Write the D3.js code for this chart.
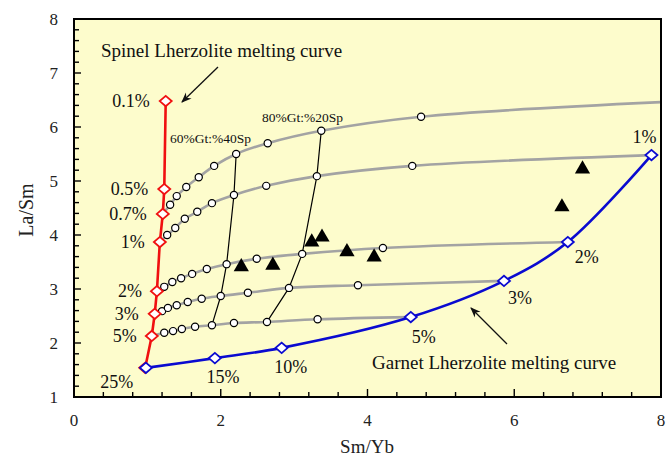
<!DOCTYPE html>
<html>
<head>
<meta charset="utf-8">
<script src="https://cdn.jsdelivr.net/npm/d3@7"></script>
<style>
  body { margin: 0; background: #fff; }
  svg { display: block; font-family: "Liberation Serif", "Times New Roman", serif; }
</style>
</head>
<body>
<svg id="chart" width="666" height="457"></svg>
<script>
// spinel lherzolite melting curve (red)
var spinelLabels = ["0.1%", "0.5%", "0.7%", "1%", "2%", "3%", "5%", "25%"];
var spinelX = [1.25, 1.23, 1.21, 1.17, 1.13, 1.10, 1.06, 0.97];
var spinelY = [6.48, 4.85, 4.39, 3.87, 2.96, 2.54, 2.13, 1.54];

// garnet lherzolite melting curve (blue)
var garnetLabels = ["25%", "15%", "10%", "5%", "3%", "2%", "1%"];
var garnetX = [0.98, 1.92, 2.83, 4.59, 5.86, 6.73, 7.87];
var garnetY = [1.54, 1.72, 1.91, 2.48, 3.15, 3.87, 5.48];

// mixing curves, from a spinel melt to a garnet melt
var mixAx = [1.31, 1.40, 1.53, 1.70, 1.91, 2.21, 2.64, 3.37, 4.73];
var mixAy = [4.56, 4.72, 4.89, 5.07, 5.28, 5.50, 5.70, 5.93, 6.19];
var mixBx = [1.27, 1.38, 1.51, 1.68, 1.88, 2.18, 2.62, 3.31, 4.61];
var mixBy = [4.00, 4.13, 4.30, 4.43, 4.59, 4.74, 4.91, 5.09, 5.28];
var mixCx = [1.23, 1.34, 1.46, 1.61, 1.81, 2.08, 2.49, 3.11, 4.21];
var mixCy = [3.04, 3.13, 3.20, 3.28, 3.37, 3.46, 3.56, 3.65, 3.76];
var mixDx = [1.20, 1.28, 1.40, 1.55, 1.74, 2.00, 2.37, 2.93, 3.87];
var mixDy = [2.59, 2.65, 2.70, 2.76, 2.82, 2.87, 2.93, 3.02, 3.07];
var mixEx = [1.23, 1.35, 1.47, 1.65, 1.88, 2.18, 2.63, 3.32];
var mixEy = [2.19, 2.22, 2.26, 2.30, 2.33, 2.37, 2.39, 2.44];

// start (spinel index) and end of every mixing curve
var mixStart = [2, 3, 4, 5, 6];
var mixEnd = [[8.0, 6.46], [7.87, 5.48], [6.73, 3.87], [5.86, 3.15], [4.59, 2.48]];

// circle index crossed by the 60%Gt:40%Sp and 80%Gt:20%Sp lines, per curve
var tie60 = [5, 5, 5, 5, 4];
var tie80 = [7, 7, 7, 7, 6];

// samples
var sampleX = [2.28, 2.71, 3.24, 3.38, 3.72, 4.09, 6.65, 6.93];
var sampleY = [3.41, 3.44, 3.87, 3.96, 3.69, 3.59, 4.52, 5.22];

var xTickLabels = [0, 2, 4, 6, 8];
var yTickLabels = [1, 2, 3, 4, 5, 6, 7, 8];

var svg = d3.select("#chart");
var x = d3.scaleLinear().domain([0, 8]).range([74, 661]);
var y = d3.scaleLinear().domain([1, 8]).range([397, 19]);

svg.append("defs").append("clipPath").attr("id", "plot-clip")
    .append("rect")
    .attr("x", x(0)).attr("y", y(8))
    .attr("width", x(8) - x(0)).attr("height", y(1) - y(8));

svg.select("defs").append("marker")
    .attr("id", "arrow")
    .attr("viewBox", "0 0 10 10")
    .attr("refX", 9).attr("refY", 5)
    .attr("markerWidth", 8).attr("markerHeight", 8)
    .attr("orient", "auto")
    .append("path")
    .attr("d", "M0,1 L10,5 L0,9 L3,5 Z")
    .attr("fill", "#111");

svg.append("rect")
    .attr("x", x(0)).attr("y", y(8))
    .attr("width", x(8) - x(0)).attr("height", y(1) - y(8))
    .attr("fill", "#fdfccc");

var plot = svg.append("g").attr("clip-path", "url(#plot-clip)");

var mixes = [
    {xs: mixAx, ys: mixAy}, {xs: mixBx, ys: mixBy}, {xs: mixCx, ys: mixCy},
    {xs: mixDx, ys: mixDy}, {xs: mixEx, ys: mixEy}
].map(function (m, i) {
    var pts = m.xs.map(function (v, j) { return [v, m.ys[j]]; });
    var s = mixStart[i];
    return {
        circles: pts,
        path: [[spinelX[s], spinelY[s]]].concat(pts, [mixEnd[i]])
    };
});

var smooth = d3.line()
    .x(function (d) { return x(d[0]); })
    .y(function (d) { return y(d[1]); })
    .curve(d3.curveCatmullRom.alpha(0.5));
var straight = d3.line()
    .x(function (d) { return x(d[0]); })
    .y(function (d) { return y(d[1]); });

plot.append("g").attr("class", "mix-lines")
    .selectAll("path")
    .data(mixes)
    .enter().append("path")
    .attr("d", function (d) { return smooth(d.path); })
    .attr("fill", "none")
    .attr("stroke", "#a3a3a3")
    .attr("stroke-width", 2.6);

[tie60, tie80].forEach(function (tie) {
    var pts = tie.map(function (k, i) { return mixes[i].circles[k]; });
    plot.append("path")
        .attr("d", straight(pts))
        .attr("fill", "none")
        .attr("stroke", "#000")
        .attr("stroke-width", 1.2);
});

var spinel = spinelX.map(function (v, i) { return [v, spinelY[i]]; });
var garnet = garnetX.map(function (v, i) { return [v, garnetY[i]]; });

plot.append("path")
    .attr("d", straight(spinel))
    .attr("fill", "none")
    .attr("stroke", "#f01010")
    .attr("stroke-width", 2.6);

plot.append("path")
    .attr("d", smooth(garnet))
    .attr("fill", "none")
    .attr("stroke", "#0a0ad0")
    .attr("stroke-width", 2.6);

plot.append("g").selectAll("circle")
    .data(d3.merge(mixes.map(function (m) { return m.circles; })))
    .enter().append("circle")
    .attr("cx", function (d) { return x(d[0]); })
    .attr("cy", function (d) { return y(d[1]); })
    .attr("r", 3.6)
    .attr("fill", "#fff")
    .attr("stroke", "#000")
    .attr("stroke-width", 1.2);

// open diamond, a bit wider than tall
var diamond = "M0,-5.2 L6,0 L0,5.2 L-6,0 Z";

plot.append("g").selectAll("path")
    .data(spinel)
    .enter().append("path")
    .attr("d", diamond)
    .attr("transform", function (d) { return "translate(" + x(d[0]) + "," + y(d[1]) + ")"; })
    .attr("fill", "#fff")
    .attr("stroke", "#f01010")
    .attr("stroke-width", 1.8);

plot.append("g").selectAll("path")
    .data(garnet)
    .enter().append("path")
    .attr("d", diamond)
    .attr("transform", function (d) { return "translate(" + x(d[0]) + "," + y(d[1]) + ")"; })
    .attr("fill", "#fff")
    .attr("stroke", "#0a0ad0")
    .attr("stroke-width", 1.8);

plot.append("g").selectAll("path")
    .data(sampleX)
    .enter().append("path")
    .attr("d", d3.symbol().type(d3.symbolTriangle).size(100))
    .attr("transform", function (d, i) { return "translate(" + x(d) + "," + y(sampleY[i]) + ")"; })
    .attr("fill", "#000");

// percentage labels
var spinelDx = [-16, -16, -16, -15, -15, -16, -15, -12];
var spinelDy = [0, 0, 0, 0, 0, 0, 0, 14];
svg.append("g").selectAll("text")
    .data(spinelLabels)
    .enter().append("text")
    .attr("x", function (d, i) { return x(spinelX[i]) + spinelDx[i]; })
    .attr("y", function (d, i) { return y(spinelY[i]) + spinelDy[i]; })
    .attr("dy", "0.35em")
    .attr("text-anchor", "end")
    .attr("font-size", 18)
    .attr("fill", "#111")
    .text(function (d) { return d; });

var garnetDx = [0, 8, 9, 13, 16, 19, -7];
var garnetDy = [0, 19, 19, 20, 17, 15, -18];
svg.append("g").selectAll("text")
    .data(garnetLabels.slice(1))
    .enter().append("text")
    .attr("x", function (d, i) { return x(garnetX[i + 1]) + garnetDx[i + 1]; })
    .attr("y", function (d, i) { return y(garnetY[i + 1]) + garnetDy[i + 1]; })
    .attr("dy", "0.35em")
    .attr("text-anchor", "middle")
    .attr("font-size", 18)
    .attr("fill", "#111")
    .text(function (d) { return d; });

svg.append("text")
    .attr("x", 170).attr("y", 138).attr("dy", "0.35em")
    .attr("font-size", 13.5).attr("fill", "#111")
    .text("60%Gt:%40Sp");
svg.append("text")
    .attr("x", 262).attr("y", 117).attr("dy", "0.35em")
    .attr("font-size", 13.5).attr("fill", "#111")
    .text("80%Gt:%20Sp");

svg.append("text")
    .attr("x", 101).attr("y", 50).attr("dy", "0.35em")
    .attr("font-size", 19).attr("fill", "#111")
    .text("Spinel Lherzolite melting curve");
svg.append("text")
    .attr("x", 372).attr("y", 362).attr("dy", "0.35em")
    .attr("font-size", 19).attr("fill", "#111")
    .text("Garnet Lherzolite melting curve");

svg.append("line")
    .attr("x1", 218).attr("y1", 67).attr("x2", 182).attr("y2", 102)
    .attr("stroke", "#111").attr("stroke-width", 1.3)
    .attr("marker-end", "url(#arrow)");
svg.append("line")
    .attr("x1", 507).attr("y1", 344).attr("x2", 471).attr("y2", 308)
    .attr("stroke", "#111").attr("stroke-width", 1.3)
    .attr("marker-end", "url(#arrow)");

// frame and inward ticks
var axes = svg.append("g");
axes.selectAll(".xt")
    .data(d3.range(0, 21).map(function (k) { return k * 0.4; }))
    .enter().append("line")
    .attr("x1", function (d) { return x(d); }).attr("x2", function (d) { return x(d); })
    .attr("y1", y(1))
    .attr("y2", function (d) { return y(1) - (Math.abs(d / 2 - Math.round(d / 2)) < 1e-6 ? 8 : 5); })
    .attr("stroke", "#000").attr("stroke-width", 1.4);

axes.selectAll(".yt")
    .data(d3.range(0, 36).map(function (k) { return 1 + k * 0.2; }))
    .enter().append("line")
    .attr("y1", function (d) { return y(d); }).attr("y2", function (d) { return y(d); })
    .attr("x1", x(0))
    .attr("x2", function (d) { return x(0) + (Math.abs(d - Math.round(d)) < 1e-6 ? 7 : 5); })
    .attr("stroke", "#000").attr("stroke-width", 1.4);

axes.append("rect")
    .attr("x", x(0)).attr("y", y(8))
    .attr("width", x(8) - x(0)).attr("height", y(1) - y(8))
    .attr("fill", "none")
    .attr("stroke", "#000").attr("stroke-width", 2);

axes.selectAll(".xl")
    .data(xTickLabels)
    .enter().append("text")
    .attr("x", function (d) { return x(d); })
    .attr("y", 420).attr("dy", "0.35em")
    .attr("text-anchor", "middle")
    .attr("font-size", 17).attr("fill", "#222")
    .text(function (d) { return d; });

axes.selectAll(".yl")
    .data(yTickLabels)
    .enter().append("text")
    .attr("x", 58)
    .attr("y", function (d) { return y(d); }).attr("dy", "0.35em")
    .attr("text-anchor", "end")
    .attr("font-size", 17).attr("fill", "#222")
    .text(function (d) { return d; });

svg.append("text")
    .attr("x", 367).attr("y", 446).attr("dy", "0.35em")
    .attr("text-anchor", "middle")
    .attr("font-size", 19).attr("fill", "#222")
    .text("Sm/Yb");

svg.append("text")
    .attr("transform", "translate(26,210) rotate(-90)")
    .attr("dy", "0.35em")
    .attr("text-anchor", "middle")
    .attr("font-size", 20).attr("fill", "#222")
    .text("La/Sm");
</script>
</body>
</html>
